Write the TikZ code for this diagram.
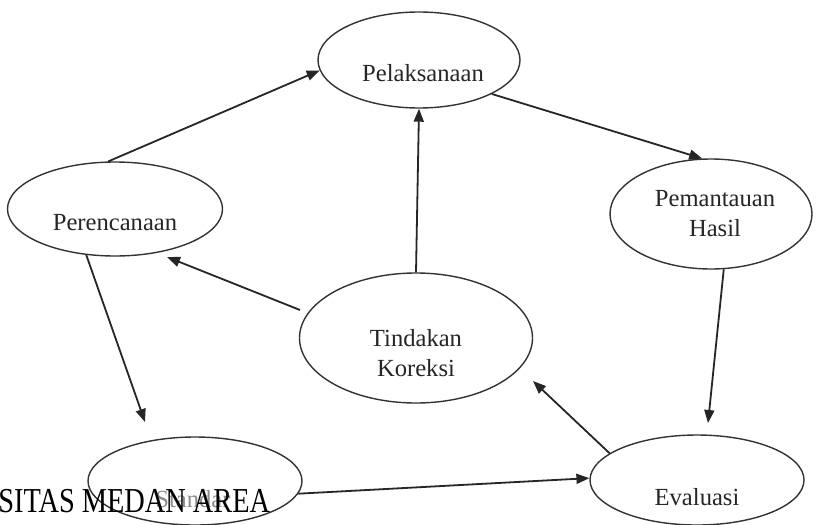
\documentclass[tikz,border=0pt]{standalone}
\usepackage{fontspec}
\setmainfont{Liberation Serif}
\usetikzlibrary{shapes.geometric,arrows.meta}
\begin{document}
\begin{tikzpicture}[x=0.5pt,y=-0.5pt,
  blob/.style={draw=black!80,line width=0.7pt,ellipse,inner sep=0pt},
  lbl/.style={font=\fontsize{12.3}{15}\selectfont,text=black!85,align=center,inner sep=0pt},
  flow/.style={draw=black!85,line width=0.9pt,-{Triangle[length=6.5pt,width=5pt]}},
  foottext/.style={font=\fontsize{17.5}{20}\selectfont,text=black,inner sep=0pt,anchor=base west}]
\useasboundingbox[fill=white] (0,0) rectangle (817,524);

% the six stages of the cycle
\node[blob,minimum width=101pt,minimum height=48pt] (pel) at (419,60) {};
\node[blob,minimum width=107.5pt,minimum height=47pt] (per) at (115,209) {};
\node[blob,minimum width=101pt,minimum height=55pt] (pem) at (711,214) {};
\node[blob,minimum width=116.5pt,minimum height=65pt] (tin) at (416,338) {};
\node[blob,minimum width=107pt,minimum height=45pt] (eva) at (697,480) {};
\node[blob,minimum width=107pt,minimum height=44pt] (sta) at (195,481) {};

\node[lbl] (pel-t) at (423,73) {Pelaksanaan};
\node[lbl] (per-t) at (115,223) {Perencanaan};
\node[lbl] (pem-t) at (715,214) {Pemantauan\\Hasil};
\node[lbl] (tin-t) at (416,353) {Tindakan\\Koreksi};
\node[lbl] (eva-t) at (697,497) {Evaluasi};
\node[lbl,text=black!45] (sta-t) at (193,499) {Standar};

% free arrow ends that stop short of an ellipse
\coordinate (eva-in) at (708,423);
\coordinate (tin-in) at (533,381);
\coordinate (tin-out) at (300,310);
\coordinate (per-in) at (167,257);
\coordinate (sta-in) at (145,422);

% connectors
\draw[flow] (per.98.5) -- (pel.186);
\draw[flow] (pel.335) -- (pem.99);
\draw[flow] (pem.283) -- (eva-in);
\draw[flow] (eva.163) -- (tin-in);
\draw[flow] (sta.-7) -- (eva.179);
\draw[flow] (tin.north) -- (pel.south);
\draw[flow] (tin-out) -- (per-in);
\draw[flow] (per.238.7) -- (sta-in);

% footer text laid over the last stage
\node[foottext] (foot) at (-2,512) {\scalebox{0.81}[1]{SITAS MEDAN AREA}};
\end{tikzpicture}
\end{document}
